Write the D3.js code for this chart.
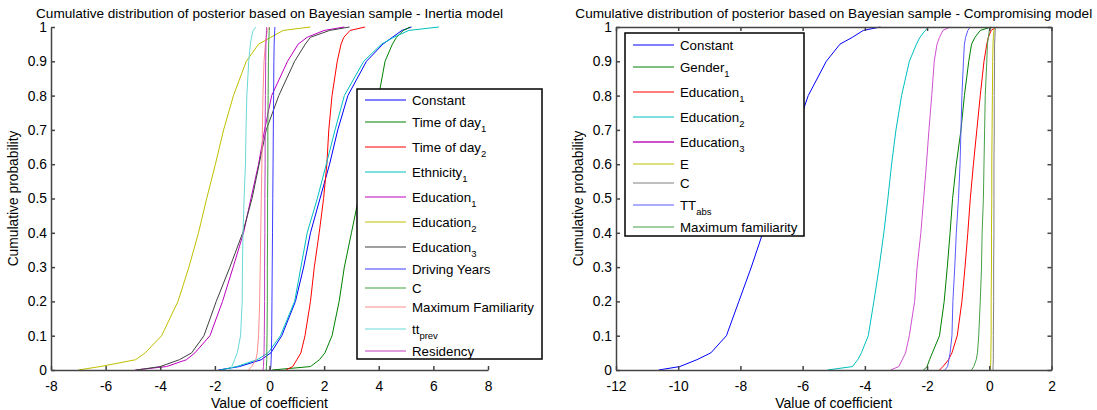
<!DOCTYPE html>
<html>
<head>
<meta charset="utf-8">
<script src="https://cdn.jsdelivr.net/npm/d3@7"></script>
<style>
  html, body { margin: 0; padding: 0; background: #fff; }
  svg { display: block; font-family: Arial, "Liberation Sans", sans-serif; }
  .axis text { font-size: 13.8px; fill: #000; }
  .axis path, .axis line { stroke: #444; stroke-width: 1.5; }
</style>
</head>
<body>
<svg id="chart" width="1097" height="410"></svg>
<script>
// cumulative probability levels shared by every curve
const probs = [0, 0.01, 0.03, 0.05, 0.1, 0.2, 0.3, 0.4, 0.5, 0.6, 0.7, 0.8, 0.9, 0.95, 0.97, 0.99, 1];

// Inertia model: coefficient value at each probability level
const inertiaLabels = ["Constant", "Time of day", "Time of day", "Ethnicity", "Education", "Education", "Education",
  "Driving Years", "C", "Maximum Familiarity", "tt", "Residency"];
const inertiaSubs = ["", "1", "2", "1", "1", "2", "3", "", "", "", "prev", ""];
const inertiaQuantiles = [
  [-1.87, -1.1, -0.3, 0.05, 0.45, 0.95, 1.25, 1.5, 1.85, 2.2, 2.5, 2.87, 3.55, 4.15, 4.5, 4.85, 5.2],
  [0.1, 1.5, 1.83, 2.03, 2.29, 2.55, 2.74, 3.0, 3.26, 3.55, 3.8, 4.0, 4.23, 4.5, 4.65, 4.9, 5.15],
  [0.6, 0.85, 1.0, 1.15, 1.3, 1.5, 1.64, 1.82, 1.98, 2.1, 2.17, 2.29, 2.48, 2.62, 2.72, 2.95, 3.5],
  [-1.8, -1.2, -0.45, -0.05, 0.4, 0.92, 1.15, 1.38, 1.75, 2.08, 2.4, 2.74, 3.45, 4.1, 4.55, 5.1, 6.2],
  [-4.92, -3.77, -3.04, -2.73, -2.18, -1.72, -1.33, -0.95, -0.68, -0.4, -0.18, 0.08, 0.66, 1.05, 1.38, 2.0, 2.74],
  [-7.0, -6.2, -4.9, -4.55, -3.95, -3.35, -2.95, -2.6, -2.3, -1.98, -1.68, -1.32, -0.85, -0.4, 0.05, 0.5, 1.5],
  [-4.87, -4.0, -3.3, -2.85, -2.4, -1.95, -1.45, -0.98, -0.64, -0.38, -0.12, 0.34, 0.92, 1.31, 1.5, 2.2, 2.93],
  [0.03, 0.05, 0.06, 0.07, 0.08, 0.09, 0.1, 0.11, 0.12, 0.13, 0.14, 0.15, 0.16, 0.17, 0.18, 0.19, 0.2],
  [-0.12, -0.11, -0.1, -0.1, -0.09, -0.08, -0.08, -0.07, -0.07, -0.06, -0.06, -0.05, -0.04, -0.03, -0.02, -0.01, 0.0],
  [-0.77, -0.65, -0.5, -0.45, -0.4, -0.36, -0.34, -0.32, -0.3, -0.28, -0.26, -0.24, -0.2, -0.15, -0.12, -0.08, 0.0],
  [-1.45, -1.38, -1.28, -1.18, -1.06, -1.0, -0.99, -0.97, -0.93, -0.88, -0.86, -0.83, -0.76, -0.7, -0.66, -0.6, -0.5],
  [-0.24, -0.22, -0.21, -0.2, -0.19, -0.18, -0.18, -0.17, -0.17, -0.16, -0.16, -0.15, -0.14, -0.13, -0.12, -0.11, -0.1]
];

// Compromising model
const compLabels = ["Constant", "Gender", "Education", "Education", "Education", "E", "C", "TT", "Maximum familiarity"];
const compSubs = ["", "1", "1", "2", "3", "", "", "abs", ""];
const compQuantiles = [
  [-10.63, -9.95, -9.4, -8.95, -8.45, -8.05, -7.65, -7.28, -6.95, -6.6, -6.2, -5.82, -5.24, -4.8, -4.4, -4.05, -3.5],
  [-2.11, -2.0, -1.92, -1.83, -1.6, -1.45, -1.35, -1.26, -1.18, -1.06, -0.91, -0.8, -0.66, -0.57, -0.46, -0.29, 0.06],
  [-1.6, -1.49, -1.31, -1.2, -1.03, -0.88, -0.78, -0.69, -0.61, -0.51, -0.4, -0.29, -0.17, -0.08, -0.03, 0.06, 0.23],
  [-5.2, -4.4, -4.23, -4.11, -3.89, -3.71, -3.54, -3.39, -3.26, -3.14, -3.0, -2.82, -2.57, -2.34, -2.23, -2.06, -1.94],
  [-3.17, -2.91, -2.8, -2.69, -2.57, -2.4, -2.32, -2.2, -2.11, -2.02, -1.94, -1.85, -1.77, -1.68, -1.6, -1.49, -1.26],
  [0.03, 0.04, 0.05, 0.05, 0.06, 0.06, 0.07, 0.07, 0.08, 0.08, 0.09, 0.1, 0.11, 0.12, 0.13, 0.15, 0.18],
  [0.12, 0.12, 0.13, 0.13, 0.13, 0.14, 0.14, 0.15, 0.15, 0.15, 0.16, 0.16, 0.17, 0.17, 0.18, 0.19, 0.2],
  [-1.43, -1.34, -1.3, -1.26, -1.2, -1.17, -1.11, -1.06, -0.99, -0.94, -0.91, -0.88, -0.83, -0.8, -0.76, -0.69, -0.61],
  [-0.57, -0.5, -0.42, -0.38, -0.34, -0.29, -0.25, -0.23, -0.19, -0.17, -0.15, -0.13, -0.08, -0.06, -0.03, 0.0, 0.06]
];

const yTicks = [0, 0.1, 0.2, 0.3, 0.4, 0.5, 0.6, 0.7, 0.8, 0.9, 1];
const inertiaXTicks = [-8, -6, -4, -2, 0, 2, 4, 6, 8];
const compXTicks = [-12, -10, -8, -6, -4, -2, 0, 2];

const inertiaColors = ["#0000ff", "#008000", "#ff0000", "#00bfbf", "#bf00bf", "#bfbf00", "#404040",
  "#3c3cff", "#3f9f3f", "#ff8c8c", "#6ad8d8", "#c23cc2"];
const compColors = ["#0000ff", "#008000", "#ff0000", "#00bfbf", "#d050d0", "#bfbf00", "#808080", "#5a5aff", "#45a045"];

const svg = d3.select("#chart");

function drawPanel(opt) {
  const x = d3.scaleLinear().domain(opt.xDomain).range([opt.left, opt.right]);
  const y = d3.scaleLinear().domain([0, 1]).range([opt.bottom, opt.top]);
  const g = svg.append("g");

  const line = d3.line().x(d => x(d[0])).y(d => y(d[1]));
  const series = opt.quantiles.map((q, i) => ({
    color: opt.colors[i],
    pts: q.map((v, k) => [v, probs[k]])
  }));

  // curves
  g.append("g").selectAll("path")
    .data(series)
    .join("path")
    .attr("d", d => line(d.pts))
    .attr("fill", "none")
    .attr("stroke", d => d.color)
    .attr("stroke-width", 1);

  const fmt = d => String(+(+d).toFixed(1));

  g.append("g").attr("class", "axis")
    .attr("transform", `translate(0,${opt.bottom})`)
    .call(d3.axisBottom(x).tickValues(opt.xTicks).tickFormat(fmt).tickSize(-4).tickSizeOuter(0).tickPadding(11));

  g.append("g").attr("class", "axis")
    .attr("transform", `translate(${opt.left},0)`)
    .call(d3.axisLeft(y).tickValues(yTicks).tickFormat(fmt).tickSize(-4).tickSizeOuter(0).tickPadding(4));

  if (opt.box) {
    g.append("g").attr("class", "axis")
      .attr("transform", `translate(0,${opt.top})`)
      .call(d3.axisTop(x).tickValues(opt.xTicks).tickFormat("").tickSize(-4).tickSizeOuter(0));
    g.append("g").attr("class", "axis")
      .attr("transform", `translate(${opt.right},0)`)
      .call(d3.axisRight(y).tickValues(yTicks).tickFormat("").tickSize(-4).tickSizeOuter(0));
  }
  g.selectAll(".axis text").attr("font-family", null);

  // titles
  const cx = (opt.left + opt.right) / 2;
  g.append("text").attr("x", cx).attr("y", 18).attr("text-anchor", "middle")
    .attr("font-size", 13.6).text(opt.title);
  g.append("text").attr("x", cx).attr("y", 408).attr("text-anchor", "middle")
    .attr("font-size", 14).text("Value of coefficient");
  g.append("text")
    .attr("transform", `translate(${opt.left - 33},${(opt.top + opt.bottom) / 2}) rotate(-90)`)
    .attr("text-anchor", "middle").attr("font-size", 13.8).text("Cumulative probability");

  // legend
  const lg = opt.legend;
  const leg = g.append("g");
  leg.append("rect")
    .attr("x", lg.x).attr("y", lg.y).attr("width", lg.w).attr("height", lg.h)
    .attr("fill", "#fff").attr("stroke", "#000").attr("stroke-width", 1.5);
  let yy = lg.y + lg.first;
  opt.labels.forEach((lab, i) => {
    if (i > 0) {
      const hPrev = opt.subs[i - 1] ? 25 : 19;
      const hCur = opt.subs[i] ? 25 : 19;
      yy += (hPrev + hCur) / 2;
    }
    leg.append("line")
      .attr("x1", lg.x + 8).attr("x2", lg.x + 49).attr("y1", yy).attr("y2", yy)
      .attr("stroke", opt.colors[i]).attr("stroke-width", i === 4 && opt.box ? 2 : 1.2);
    const t = leg.append("text").attr("x", lg.x + 55).attr("y", yy + 4.5).attr("font-size", 13.3);
    t.append("tspan").text(lab);
    if (opt.subs[i]) {
      t.append("tspan").attr("dy", 5).attr("font-size", 9.5).text(opt.subs[i]);
    }
  });
}

drawPanel({
  left: 51, right: 488, top: 27, bottom: 370,
  xDomain: [-8, 8], xTicks: inertiaXTicks,
  quantiles: inertiaQuantiles, colors: inertiaColors,
  labels: inertiaLabels, subs: inertiaSubs,
  title: "Cumulative distribution of posterior based on Bayesian sample - Inertia model",
  legend: { x: 357, y: 89, w: 185, h: 270, first: 11 },
  box: false
});

drawPanel({
  left: 616, right: 1051.5, top: 27, bottom: 370,
  xDomain: [-12, 2], xTicks: compXTicks,
  quantiles: compQuantiles, colors: compColors,
  labels: compLabels, subs: compSubs,
  title: "Cumulative distribution of posterior based on Bayesian sample - Compromising model",
  legend: { x: 625, y: 33, w: 179, h: 203, first: 12 },
  box: true
});
</script>
</body>
</html>
